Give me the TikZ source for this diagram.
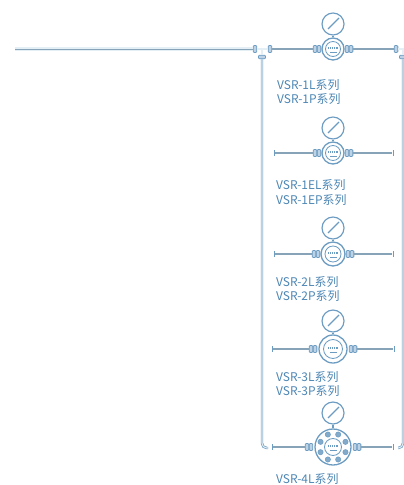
\documentclass[tikz,border=0pt]{standalone}
\usepackage{fontspec}
\setmainfont{Noto Sans CJK SC}
\usepackage{xcolor}
\usetikzlibrary{calc,shapes.geometric}
\definecolor{pipeblue}{HTML}{6C9CC2}
\definecolor{pipepale}{HTML}{E4EEF5}
\definecolor{pipegray}{HTML}{86A3B8}
\definecolor{labelblue}{HTML}{4C86B4}
\tikzset{
  pipe/.style={draw=pipeblue,double=pipepale,line width=0.6pt,double distance=0.9pt},
  rowpipe/.style={draw=pipepale,double=pipegray,line width=0.6pt,double distance=0.9pt},
  feed/.style={draw=pipepale,double=pipegray,line width=1.1pt,double distance=0.7pt},
  gauge/.style={circle,draw=pipeblue,line width=1pt,fill=white,inner sep=0pt},
  body/.style={circle,draw=pipeblue,line width=1.1pt,fill=white,inner sep=0pt},
  coupling/.style={rectangle,rounded corners=0.8pt,draw=pipeblue,line width=0.7pt,fill=pipeblue!45,inner sep=0pt,minimum width=0.11cm,minimum height=0.21cm},
  endbar/.style={rectangle,fill=pipeblue,inner sep=0pt,minimum width=0.8pt,minimum height=0.18cm},
  bolt/.style={circle,draw=pipeblue,line width=0.4pt,fill=pipeblue!85,inner sep=0pt,minimum size=0.16cm},
  model/.style={text=labelblue,font=\fontsize{10.2pt}{12pt}\selectfont,anchor=west,inner sep=0pt}
}
\begin{document}
\begin{tikzpicture}[x=0.03cm,y=-0.03cm]
  \useasboundingbox (0,0) rectangle (404,485);
  % main feed line and the two side pipes
  \coordinate (feedstart) at (15,49);
  \node[coupling] (teeLa) at (255,49) {};
  \node[coupling] (teeLb) at (270,49) {};
  \node[coupling,rotate=90] (teeLc) at (262,57) {};
  \node[coupling] (teeRa) at (396,49) {};
  \node[coupling,rotate=90] (teeRc) at (403,57) {};
  \coordinate (elbowL) at (268,448);
  \coordinate (elbowR) at (398,448);
  \draw[feed] (feedstart) -- (teeLa);
  \draw[pipe] (teeLa) -- (teeLb);
  \draw[pipe] (teeLc) -- (262,50);
  \draw[pipe] (teeRa) -- (404,49);
  \draw[pipe] (teeRc) -- (403,50);
  \draw[pipe,rounded corners=4pt] (teeLc) -- (262,448) -- (elbowL);
  \draw[pipe,rounded corners=4pt] (teeRc) -- (403,448) -- (elbowR);
  % regulators: number / gauge y / body y / body radius
  \foreach \n/\yg/\yb/\rb in {1/24/49/11,2/128/153/11,3/228/254/12,4/321/349/14,5/413/447/18}{
    \node[body,minimum size=\rb*0.06cm] (body\n) at (333,\yb) {};
    \node[gauge,minimum size=0.66cm] (gauge\n) at (333,\yg) {};
    \draw[pipeblue,line width=2.4pt] (gauge\n.south) -- (body\n.north);
    \draw[pipeblue,line width=1pt] ($(gauge\n.center)+(-5,5)$) -- ($(gauge\n.center)+(6,-6)$);
  }
  % couplings beside the bodies
  \foreach \n/\yb/\dx in {1/49/0,2/153/0,3/254/1,4/349/4,5/447/8}{
    \node[coupling] (cplLa\n) at (333-14-\dx,\yb) {};
    \node[coupling] (cplLb\n) at (333-18-\dx,\yb) {};
    \node[coupling] (cplRa\n) at (333+14+\dx,\yb) {};
    \node[coupling] (cplRb\n) at (333+18+\dx,\yb) {};
  }
  % row 1 joins the tees, the others end in a bar
  \draw[rowpipe] (teeLb) -- (cplLb1);
  \draw[rowpipe] (cplRb1) -- (teeRa);
  \foreach \n/\yb/\xa/\xb in {2/153/274/393,3/254/274/393,4/349/272/394,5/447/272/393}{
    \node[endbar] (barL\n) at (\xa,\yb) {};
    \node[endbar] (barR\n) at (\xb,\yb) {};
    \draw[rowpipe] (barL\n) -- (cplLb\n);
    \draw[rowpipe] (cplRb\n) -- (barR\n);
  }
  % dial faces
  \foreach \n/\yb/\rb in {1/49/7.5,2/153/7.5,3/254/8,4/349/9.5,5/447/8.5}{
    \node[body,line width=0.7pt,minimum size=\rb*0.06cm] (face\n) at (333,\yb) {};
    \draw[pipeblue,line width=1pt,dash pattern=on 1.2pt off 0.4pt] ($(face\n.center)+(-5,-1)$) -- ++(10,0);
    \draw[pipeblue,line width=0.5pt] ($(face\n.center)+(-3.5,3)$) -- ++(7,0);
  }
  % bolts on the flange of the large one
  \foreach \a in {0,45,...,315}{
    \node[bolt] (bolt\a) at ($(body5.center)+(\a+22.5:13.5)$) {};
  }
  % model labels
  \node[model] (lab1a) at (277,85) {VSR-1L系列};
  \node[model] (lab1b) at (277,99) {VSR-1P系列};
  \node[model] (lab2a) at (276,185) {VSR-1EL系列};
  \node[model] (lab2b) at (276,200) {VSR-1EP系列};
  \node[model] (lab3a) at (276,282) {VSR-2L系列};
  \node[model] (lab3b) at (276,296) {VSR-2P系列};
  \node[model] (lab4a) at (276,377) {VSR-3L系列};
  \node[model] (lab4b) at (276,391) {VSR-3P系列};
  \node[model] (lab5a) at (276,479) {VSR-4L系列};
\end{tikzpicture}
\end{document}
